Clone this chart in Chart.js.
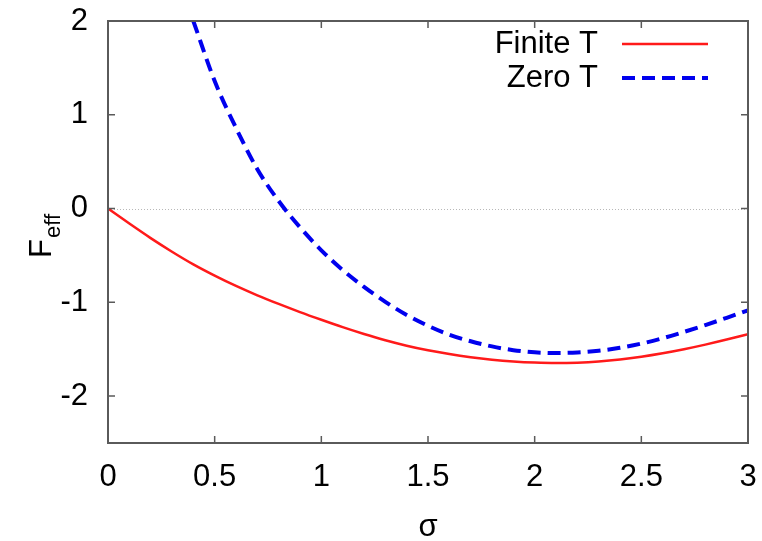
<!DOCTYPE html>
<html>
<head>
<meta charset="utf-8">
<script src="https://cdn.jsdelivr.net/npm/chart.js@4/dist/chart.umd.min.js"></script>
<style>
  html, body { margin: 0; padding: 0; background: #fff; }
  canvas { display: block; }
</style>
</head>
<body>
<canvas id="chart" width="762" height="541"></canvas>
<script>
// Effective free energy versus sigma
const sigmaFinite = [0, 0.1, 0.2, 0.3, 0.4, 0.5, 0.6, 0.7, 0.8, 0.9, 1.0,
                     1.1, 1.2, 1.3, 1.4, 1.5, 1.6, 1.7, 1.8, 1.9, 2.0,
                     2.1, 2.2, 2.3, 2.4, 2.5, 2.6, 2.7, 2.8, 2.9, 3.0];
const finiteT = [0, -0.16, -0.315, -0.46, -0.595, -0.715, -0.825, -0.925, -1.017, -1.104, -1.186,
                 -1.265, -1.338, -1.405, -1.463, -1.512, -1.552, -1.585, -1.611, -1.63, -1.642,
                 -1.647, -1.643, -1.631, -1.61, -1.58, -1.543, -1.5, -1.451, -1.397, -1.339];

const sigmaZero = [0.4, 0.5, 0.6, 0.7, 0.8, 0.9, 1.0,
                   1.1, 1.2, 1.3, 1.4, 1.5, 1.6, 1.7, 1.8, 1.9, 2.0,
                   2.1, 2.2, 2.3, 2.4, 2.5, 2.6, 2.7, 2.8, 2.9, 3.0];
const zeroT = [2.0, 1.36, 0.86, 0.42, 0.08, -0.2, -0.445,
               -0.655, -0.835, -0.995, -1.135, -1.25, -1.345, -1.415, -1.47, -1.51, -1.533,
               -1.54, -1.535, -1.517, -1.485, -1.44, -1.383, -1.315, -1.242, -1.165, -1.085];

const seriesLabels = ['Finite T', 'Zero T'];
const xTicks = [0, 0.5, 1, 1.5, 2, 2.5, 3];
const yTicks = [-2, -1, 0, 1, 2];

const FONT = '"Liberation Sans", Arial, Helvetica, sans-serif';
const FRAME = '#5a5a5a';

function toPoints(xs, ys) {
  return xs.map((x, i) => ({ x: x, y: ys[i] }));
}

// keep the plot box fixed: no extra room reserved for overhanging labels
function fixBox(s, size) {
  if (s.isHorizontal()) s.height = size; else s.width = size;
  s.paddingTop = 0;
  s.paddingBottom = 0;
  s.paddingLeft = 0;
  s.paddingRight = 0;
}

// Zero line, inward ticks on all four sides, frame, key and rotated y title
const gnuplotDecor = {
  id: 'gnuplotDecor',
  beforeDatasetsDraw(chart) {
    const { ctx, chartArea: a, scales: { y } } = chart;
    const y0 = Math.round(y.getPixelForValue(0)) + 0.5;
    ctx.save();
    ctx.strokeStyle = '#b8b8b8';
    ctx.lineWidth = 1;
    ctx.setLineDash([1, 2]);
    ctx.beginPath();
    ctx.moveTo(a.left, y0);
    ctx.lineTo(a.right, y0);
    ctx.stroke();
    ctx.restore();
  },
  afterDraw(chart) {
    const { ctx, chartArea: a, scales: { x, y } } = chart;
    const tl = 7;
    ctx.save();
    ctx.strokeStyle = FRAME;
    ctx.lineWidth = 1.5;
    ctx.beginPath();
    xTicks.forEach(v => {
      const px = x.getPixelForValue(v);
      ctx.moveTo(px, a.bottom); ctx.lineTo(px, a.bottom - tl);
      ctx.moveTo(px, a.top); ctx.lineTo(px, a.top + tl);
    });
    yTicks.forEach(v => {
      const py = y.getPixelForValue(v);
      ctx.moveTo(a.left, py); ctx.lineTo(a.left + tl, py);
      ctx.moveTo(a.right, py); ctx.lineTo(a.right - tl, py);
    });
    ctx.stroke();
    ctx.lineWidth = 2;
    ctx.strokeRect(a.left, a.top, a.right - a.left, a.bottom - a.top);

    // key, top right
    ctx.fillStyle = '#000';
    ctx.font = '31px ' + FONT;
    ctx.textAlign = 'right';
    ctx.textBaseline = 'middle';
    const keyRows = [44, 78];
    chart.data.datasets.forEach((ds, i) => {
      const ky = keyRows[i];
      ctx.fillText(ds.label, 598, ky);
      ctx.save();
      ctx.strokeStyle = ds.borderColor;
      ctx.lineWidth = ds.borderWidth;
      ctx.setLineDash(ds.borderDash || []);
      ctx.beginPath();
      ctx.moveTo(622, ky);
      ctx.lineTo(708, ky);
      ctx.stroke();
      ctx.restore();
    });

    // y axis title F_eff
    ctx.translate(51, 258);
    ctx.rotate(-Math.PI / 2);
    ctx.textAlign = 'left';
    ctx.textBaseline = 'alphabetic';
    ctx.font = '31px ' + FONT;
    ctx.fillText('F', 0, 0);
    const w = ctx.measureText('F').width;
    ctx.font = '22px ' + FONT;
    ctx.fillText('eff', w + 1, 9);
    ctx.restore();
  }
};

new Chart(document.getElementById('chart'), {
  type: 'line',
  data: {
    datasets: [
      {
        label: seriesLabels[0],
        data: toPoints(sigmaFinite, finiteT),
        borderColor: '#ff1a1a',
        borderWidth: 2.5,
        pointRadius: 0,
        cubicInterpolationMode: 'monotone',
        fill: false
      },
      {
        label: seriesLabels[1],
        data: toPoints(sigmaZero, zeroT),
        borderColor: '#0000ee',
        borderWidth: 4,
        borderDash: [13, 7],
        pointRadius: 0,
        cubicInterpolationMode: 'monotone',
        fill: false
      }
    ]
  },
  options: {
    responsive: false,
    animation: false,
    devicePixelRatio: 1,
    layout: { padding: { top: 21, right: 14, bottom: 0, left: 0 } },
    plugins: {
      legend: { display: false },
      tooltip: { enabled: false }
    },
    scales: {
      x: {
        type: 'linear',
        min: 0,
        max: 3,
        afterBuildTicks: s => { s.ticks = xTicks.map(v => ({ value: v })); },
        afterFit: s => fixBox(s, 98),
        grid: { display: false, drawTicks: false },
        border: { display: false },
        ticks: {
          color: '#000',
          font: { family: FONT, size: 31 },
          padding: 16,
          maxRotation: 0,
          autoSkip: false,
          callback: v => String(v)
        },
        title: {
          display: true,
          text: 'σ',
          color: '#000',
          font: { family: FONT, size: 31 },
          padding: { top: 0, bottom: -5 }
        }
      },
      y: {
        type: 'linear',
        min: -2.5,
        max: 2,
        afterBuildTicks: s => { s.ticks = yTicks.map(v => ({ value: v })); },
        afterFit: s => fixBox(s, 108),
        grid: { display: false, drawTicks: false },
        border: { display: false },
        ticks: {
          color: '#000',
          font: { family: FONT, size: 31 },
          padding: 20,
          autoSkip: false,
          callback: v => String(v)
        }
      }
    }
  },
  plugins: [gnuplotDecor]
});
</script>
</body>
</html>
